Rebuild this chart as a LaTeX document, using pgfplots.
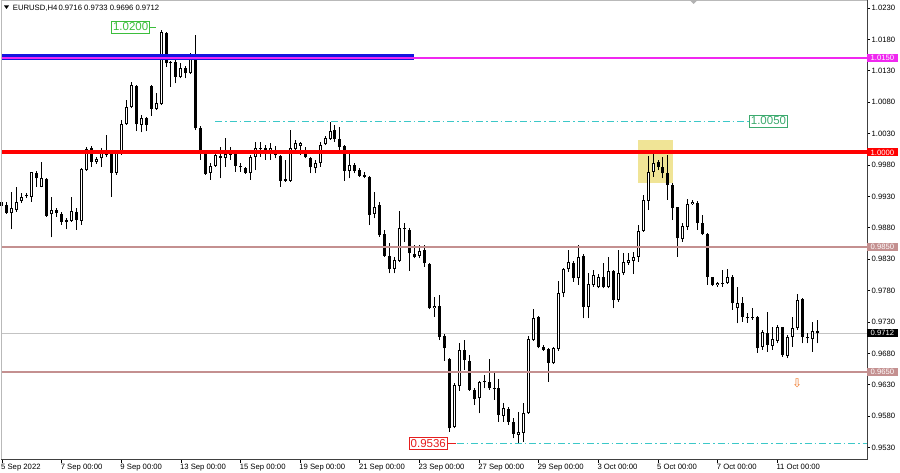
\documentclass[border=0pt]{standalone}
\usepackage{pgfplots}
\pgfplotsset{compat=1.18}
\usepackage{pgfplotstable}
\usepackage{fontspec}
\setmainfont{Liberation Sans}
\newfontfamily\dejavu{DejaVu Sans}
\definecolor{bandblue}{RGB}{20,20,225}
\definecolor{mag}{RGB}{240,40,240}
\definecolor{rosy}{RGB}{196,144,144}
\definecolor{curgray}{RGB}{195,195,195}
\definecolor{dcyan}{RGB}{60,200,200}
\definecolor{lblgreen}{RGB}{60,190,60}
\definecolor{lblteal}{RGB}{60,170,110}
\definecolor{lblred}{RGB}{230,30,30}
\definecolor{hiyellow}{RGB}{240,228,150}
\definecolor{arrorange}{RGB}{240,120,40}

\pgfplotstableread{
x O H L C
0 0.99216 0.99296 0.99110 0.99147
1 0.99163 0.99216 0.99020 0.99041
7 0.99678 0.99710 0.99455 0.99588
9 0.99577 0.99588 0.98977 0.98993
11 0.99083 0.99110 0.98977 0.99041
12 0.99020 0.99057 0.98845 0.98898
15 0.99057 0.99110 0.98765 0.98924
18 1.00065 1.00103 0.99774 0.99853
22 0.99986 1.00012 0.99296 0.99678
27 1.01058 1.01074 1.00341 1.00448
29 1.00543 1.00559 1.00341 1.00437
30 1.01063 1.01074 1.00586 1.00692
33 1.01907 1.01923 1.01366 1.01419
34 1.01446 1.01461 1.01047 1.01419
35 1.01446 1.01472 1.01100 1.01207
37 1.01339 1.01376 1.01180 1.01260
39 1.01536 1.01870 1.00357 1.00384
40 1.00384 1.00421 0.99880 1.00012
41 1.00012 1.00039 0.99641 0.99657
44 0.99949 1.00092 0.99588 0.99917
46 0.99986 1.00092 0.99880 0.99959
47 0.99975 0.99996 0.99694 0.99790
48 0.99790 0.99827 0.99694 0.99763
49 0.99747 0.99774 0.99657 0.99678
53 1.00065 1.00119 0.99880 1.00012
55 1.00039 1.00103 0.99906 0.99959
56 0.99943 0.99959 0.99455 0.99551
57 0.99572 0.99880 0.99535 0.99551
61 1.00012 1.00092 0.99906 0.99922
62 0.99906 0.99933 0.99667 0.99763
67 1.00357 1.00437 1.00172 1.00209
68 1.00209 1.00410 1.00039 1.00081
69 1.00103 1.00118 0.99551 0.99710
71 0.99800 0.99827 0.99667 0.99710
72 0.99720 0.99747 0.99614 0.99630
73 0.99641 0.99694 0.99588 0.99614
74 0.99614 0.99625 0.98844 0.99004
76 0.99163 0.99216 0.98659 0.98685
77 0.98701 0.98765 0.98340 0.98356
78 0.98356 0.98553 0.98075 0.98139
81 0.98802 0.98871 0.98579 0.98776
82 0.98765 0.98791 0.98117 0.98393
83 0.98383 0.98526 0.98314 0.98340
85 0.98446 0.98526 0.98181 0.98234
86 0.98223 0.98234 0.97502 0.97518
88 0.97560 0.97730 0.97013 0.97066
89 0.97077 0.97109 0.96684 0.96881
90 0.96705 0.96721 0.95554 0.95607
93 0.96854 0.97013 0.96536 0.96695
94 0.96684 0.96775 0.96207 0.96218
95 0.96218 0.96244 0.95978 0.96069
98 0.96350 0.96705 0.96218 0.96244
99 0.96244 0.96483 0.96058 0.96228
100 0.96244 0.96387 0.95713 0.95819
102 0.95915 0.95952 0.95660 0.95713
103 0.95713 0.95766 0.95448 0.95517
108 0.97374 0.97396 0.96881 0.96897
109 0.96897 0.96934 0.96844 0.96854
110 0.96865 0.96881 0.96350 0.96652
115 0.98245 0.98276 0.97942 0.97995
117 0.98351 0.98383 0.97358 0.97544
121 0.98022 0.98234 0.97836 0.97852
123 0.98117 0.98128 0.97518 0.97650
132 0.99842 0.99880 0.99720 0.99774
133 0.99774 0.99933 0.99588 0.99667
134 0.99678 0.99959 0.99243 0.99481
135 0.99481 0.99508 0.98924 0.99110
136 0.99126 0.99137 0.98340 0.98632
140 0.99200 0.99232 0.98765 0.98882
141 0.98882 0.99004 0.98685 0.98701
142 0.98701 0.98712 0.97889 0.98022
143 0.98011 0.98022 0.97873 0.97889
145 0.97916 0.98128 0.97863 0.97910
147 0.98022 0.98048 0.97491 0.97597
149 0.97608 0.97703 0.97305 0.97385
152 0.97385 0.97395 0.96812 0.96881
154 0.97130 0.97464 0.96828 0.96934
157 0.97215 0.97226 0.96748 0.96775
161 0.97661 0.97677 0.96960 0.97067
162 0.97067 0.97130 0.96960 0.97040
164 0.97160 0.97330 0.96960 0.97120
}\bear

\pgfplotstableread{
x O H L C
2 0.99030 0.99376 0.98776 0.99110
3 0.99083 0.99455 0.99057 0.99216
4 0.99227 0.99349 0.99200 0.99296
5 0.99300 0.99349 0.99269 0.99310
6 0.99296 0.99694 0.99216 0.99683
8 0.99455 0.99853 0.99445 0.99588
10 0.99014 0.99296 0.98648 0.99078
13 0.98892 0.98951 0.98776 0.98924
14 0.98914 0.99296 0.98898 0.99067
16 0.98914 0.99747 0.98845 0.99736
17 0.99720 1.00092 0.99710 1.00055
19 0.99853 0.99933 0.99816 0.99895
20 0.99906 1.00065 0.99774 0.99996
21 0.99959 1.00278 0.99922 1.00002
23 0.99678 1.00012 0.99641 0.99986
24 0.99975 1.00517 0.99959 1.00448
25 1.00448 1.00835 1.00437 1.00718
26 1.00718 1.01127 1.00702 1.01074
28 1.00437 1.00596 1.00320 1.00543
31 1.00692 1.00941 1.00676 1.00782
32 1.00766 1.01950 1.00755 1.01913
36 1.01196 1.01419 1.01180 1.01339
38 1.01260 1.01578 1.01249 1.01552
42 0.99678 0.99827 0.99561 0.99784
43 0.99784 0.99986 0.99774 0.99959
45 0.99917 1.00225 0.99774 0.99975
50 0.99667 0.99959 0.99561 0.99933
51 0.99933 1.00172 0.99720 1.00065
52 1.00049 1.00172 0.99933 1.00076
54 1.00012 1.00145 0.99880 1.00065
58 0.99551 1.00357 0.99535 1.00065
59 1.00049 1.00198 1.00012 1.00145
60 1.00108 1.00172 0.99959 1.00145
63 0.99747 0.99880 0.99667 0.99827
64 0.99827 1.00172 0.99774 1.00118
65 1.00129 1.00262 1.00118 1.00225
66 1.00209 1.00490 1.00198 1.00347
70 0.99704 0.99986 0.99588 0.99800
75 0.99020 0.99375 0.98951 0.99126
79 0.98144 0.98340 0.98075 0.98287
80 0.98276 0.99073 0.98261 0.98791
84 0.98351 0.98526 0.98314 0.98436
87 0.97518 0.97703 0.97385 0.97555
91 0.95623 0.96323 0.95607 0.96297
92 0.96281 0.96960 0.96207 0.96854
96 0.96085 0.96366 0.95846 0.96350
97 0.96350 0.96456 0.96244 0.96366
101 0.95803 0.96005 0.95713 0.95925
104 0.95501 0.95872 0.95368 0.95554
105 0.95538 0.96016 0.95395 0.95846
106 0.95846 0.97077 0.95835 0.97024
107 0.97013 0.97502 0.97003 0.97358
111 0.96642 0.96897 0.96631 0.96881
112 0.96865 0.97958 0.96844 0.97767
113 0.97756 0.98154 0.97693 0.98139
114 0.98139 0.98446 0.98101 0.98250
116 0.97995 0.98526 0.97889 0.98340
118 0.97544 0.98075 0.97358 0.97905
119 0.97889 0.98128 0.97863 0.98048
120 0.97852 0.98064 0.97836 0.98022
122 0.97852 0.98340 0.97836 0.98117
124 0.97650 0.98446 0.97624 0.98075
125 0.98075 0.98393 0.98048 0.98261
126 0.98245 0.98393 0.98208 0.98287
127 0.98271 0.98420 0.98064 0.98340
128 0.98340 0.98845 0.98261 0.98754
129 0.98749 0.99322 0.98738 0.99243
130 0.99232 0.99943 0.99083 0.99694
131 0.99694 0.99970 0.99614 0.99837
137 0.98616 0.98871 0.98579 0.98829
138 0.98818 0.99253 0.98765 0.99179
139 0.99179 0.99243 0.99163 0.99216
144 0.97884 0.97942 0.97863 0.97926
146 0.97916 0.98139 0.97905 0.98022
148 0.97518 0.97863 0.97279 0.97608
150 0.97358 0.97438 0.97289 0.97374
151 0.97358 0.97518 0.97332 0.97385
153 0.96907 0.97173 0.96854 0.97146
155 0.96918 0.97226 0.96854 0.97024
156 0.97003 0.97252 0.96960 0.97215
158 0.96764 0.97093 0.96721 0.97067
159 0.97067 0.97385 0.96907 0.97199
160 0.97199 0.97746 0.97173 0.97650
163 0.97024 0.97305 0.96828 0.97157
}\bull

\pgfplotsset{
  candlebar/.style 2 args={draw=none, fill=none, mark=none,
    error bars/.cd, y dir=plus, y explicit, error mark=none,
    error bar style={line width=#1, draw=#2, solid}},
}

\begin{document}
\begin{tikzpicture}
\useasboundingbox (0pt,0pt) rectangle (900pt,472pt);
\fill[white] (0pt,0pt) rectangle (900pt,472pt);
\begin{axis}[
  at={(1.5pt,12.5pt)}, anchor=south west,
  scale only axis, width=865.5pt, height=459pt,
  xmin=-0.1, xmax=174.05, ymin=0.951103, ymax=1.024194,
  clip=false,
  axis line style={draw=none},
  tick align=outside, major tick length=3pt,
  tick style={black, line width=0.8pt},
  xtick pos=bottom, ytick pos=right,
  yticklabel pos=right,
  xtick={0,12,24,36,48,60,72,84,96,108,120,132,144,156},
  xticklabels={5 Sep 2022,7 Sep 00:00,9 Sep 00:00,13 Sep 00:00,15 Sep 00:00,19 Sep 00:00,21 Sep 00:00,23 Sep 00:00,27 Sep 00:00,29 Sep 00:00,3 Oct 00:00,5 Oct 00:00,7 Oct 00:00,11 Oct 00:00},
  ytick={0.9530,0.9580,0.9630,0.9680,0.9730,0.9780,0.9830,0.9880,0.9930,0.9980,1.0030,1.0080,1.0130,1.0180,1.0230},
  yticklabels={0.9530,0.9580,0.9630,0.9680,0.9730,0.9780,0.9830,0.9880,0.9930,0.9980,1.0030,1.0080,1.0130,1.0180,1.0230},
  xticklabel style={font=\fontsize{7.7}{9}\selectfont, anchor=north west, inner sep=0pt, yshift=-1pt, xshift=-1pt},
  yticklabel style={font=\fontsize{7.7}{9}\selectfont, anchor=west, inner sep=0pt, xshift=1.5pt},
]
% highlight rectangle
\fill[hiyellow] (axis cs:127.97,1.00198) rectangle (axis cs:135.0,0.99518);
% current price line
\draw[curgray, line width=1pt] (axis cs:-0.1,0.9712) -- (axis cs:174.05,0.9712);

% candles
\addplot[candlebar={1pt}{black}] table[x=x, y=L, y error plus expr=\thisrow{H}-\thisrow{L}] {\bear};
\addplot[candlebar={1pt}{black}] table[x=x, y=L, y error plus expr=\thisrow{H}-\thisrow{L}] {\bull};
\addplot[candlebar={3pt}{black}] table[x=x, y=C, y error plus expr={max(\thisrow{O}-\thisrow{C},0.00016)}] {\bear};
\addplot[candlebar={3pt}{black}] table[x=x, y=O, y error plus expr={max(\thisrow{C}-\thisrow{O},0.00016)}] {\bull};
\addplot[candlebar={1pt}{white}] table[x=x, y expr=\thisrow{O}+0.00016, y error plus expr={max(\thisrow{C}-\thisrow{O}-0.00032,0)}] {\bull};

% horizontal levels
\draw[rosy, line width=2pt] (axis cs:-0.1,0.9850) -- (axis cs:174.05,0.9850);
\draw[rosy, line width=2pt] (axis cs:-0.1,0.9650) -- (axis cs:174.05,0.9650);
\draw[red, line width=4pt] (axis cs:-0.1,1.0000) -- (axis cs:174.05,1.0000);
\draw[bandblue, line width=5.5pt] (axis cs:-0.1,1.01522) -- (axis cs:82.9,1.01522);
\draw[mag, line width=1.5pt] (axis cs:-0.1,1.01500) -- (axis cs:174.05,1.01500);
\draw[dcyan, line width=1pt, dash pattern=on 7pt off 3pt on 1.5pt off 3pt] (axis cs:42.9,1.0050) -- (axis cs:150.3,1.0050);
\draw[dcyan, line width=1pt, dash pattern=on 7pt off 3pt on 1.5pt off 3pt] (axis cs:91.5,0.9536) -- (axis cs:174.05,0.9536);

% annotation labels
\draw[lblgreen, line width=0.8pt] (axis cs:29.8,1.01997) -- (axis cs:31.0,1.01997);
\node[draw=lblgreen, text=lblgreen, line width=0.8pt, fill=white, font=\fontsize{11.5}{12}\selectfont, inner xsep=1.5pt, inner ysep=2pt, anchor=east] at (axis cs:29.8,1.01997) {1.0200};
\node[draw=lblteal, text=lblteal, line width=0.8pt, fill=white, font=\fontsize{11.5}{12}\selectfont, inner xsep=1.5pt, inner ysep=2pt, anchor=west] at (axis cs:150.3,1.0050) {1.0050};
\draw[lblred, line width=0.8pt] (axis cs:89.7,0.9536) -- (axis cs:91.4,0.9536);
\node[draw=lblred, text=lblred, line width=0.8pt, fill=white, font=\fontsize{11.5}{12}\selectfont, inner xsep=1.5pt, inner ysep=2pt, anchor=east] at (axis cs:89.7,0.9536) {0.9536};
\node[text=arrorange, font=\dejavu\fontsize{12}{12}\selectfont, inner sep=0pt] at (axis cs:160.0,0.9632) {⇩};

% frame
\draw[gray!55, line width=1pt] (rel axis cs:0,0) -- (rel axis cs:0,1) -- (rel axis cs:1,1);
\draw[black!75, line width=1pt] (rel axis cs:1,1) -- (rel axis cs:1,0) -- (rel axis cs:0,0);

% right side price tags
\node[fill=mag, text=white, font=\fontsize{7.7}{9}\selectfont, inner xsep=3.5pt, inner ysep=1.3pt, anchor=west] at (axis cs:174.05,1.0150) {1.0150};
\node[fill=red, text=white, font=\fontsize{7.7}{9}\selectfont, inner xsep=3.5pt, inner ysep=1.3pt, anchor=west] at (axis cs:174.05,1.0000) {1.0000};
\node[fill=rosy, text=white, font=\fontsize{7.7}{9}\selectfont, inner xsep=3.5pt, inner ysep=1.3pt, anchor=west] at (axis cs:174.05,0.9850) {0.9850};
\node[fill=black, text=white, font=\fontsize{7.7}{9}\selectfont, inner xsep=3.5pt, inner ysep=1.3pt, anchor=west] at (axis cs:174.05,0.9712) {0.9712};
\node[fill=rosy, text=white, font=\fontsize{7.7}{9}\selectfont, inner xsep=3.5pt, inner ysep=1.3pt, anchor=west] at (axis cs:174.05,0.9650) {0.9650};
\end{axis}
% header
\fill[black] (4pt,466.5pt) -- (9pt,466.5pt) -- (6.5pt,463pt) -- cycle;
\node[anchor=base west, inner sep=0pt, font=\fontsize{7.7}{9}\selectfont] at (12.7pt,461.7pt) {EURUSD,H4};
\node[anchor=base west, inner sep=0pt, font=\fontsize{7.7}{9}\selectfont] at (58.3pt,461.7pt) {0.9716 0.9733 0.9696 0.9712};
\fill[gray!60] (689.5pt,472pt) -- (697.5pt,472pt) -- (693.5pt,468pt) -- cycle;
\end{tikzpicture}
\end{document}
